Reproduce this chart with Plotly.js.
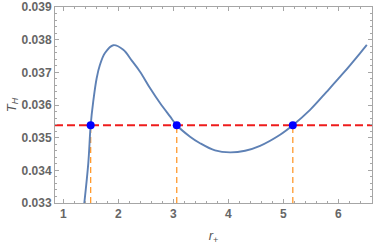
<!DOCTYPE html>
<html>
<head>
<meta charset="utf-8">
<script src="https://cdn.plot.ly/plotly-3.0.1.min.js"></script>
<style>html,body{margin:0;padding:0;background:#fff;}#chart{width:374px;height:245px;}</style>
</head>
<body>
<div id="chart"></div>
<script>
// Curve T_H(r_+)
var rPlus = [1.382,1.455,1.498,1.545,1.607,1.667,1.758,1.909,2.091,2.249,2.395,2.576,2.758,2.940,3.062,3.304,3.485,3.758,4.031,4.304,4.576,4.940,5.171,5.485,5.789,6.091,6.395,6.516];
var tempH = [0.03299,0.03422,0.03538,0.03611,0.03682,0.03723,0.03759,0.03783,0.03769,0.03735,0.03702,0.03652,0.03606,0.03565,0.03538,0.03503,0.03483,0.03461,0.03455,0.03460,0.03475,0.03509,0.03538,0.03585,0.03641,0.03698,0.03759,0.03784];
// Horizontal level and its intersections
var levelT = 0.03538;
var rootR = [1.498, 3.062, 5.171];
var rootT = [levelT, levelT, levelT];
// Axis setup
var xRange = [0.85, 6.61];
var yRange = [0.033, 0.039];
var xTicks = [1, 2, 3, 4, 5, 6];
var yTicks = [0.033, 0.034, 0.035, 0.036, 0.037, 0.038, 0.039];
var yTickText = ['0.033','0.034','0.035','0.036','0.037','0.038','0.039'];

var shapes = [{
  type: 'line', xref: 'paper', yref: 'y', x0: 0, x1: 1, y0: levelT, y1: levelT,
  line: {color: '#ee1c1c', width: 1.8, dash: '8px,4px'}, layer: 'below'
}];
rootR.forEach(function (r) {
  shapes.push({
    type: 'line', xref: 'x', yref: 'y', x0: r, x1: r, y0: yRange[0], y1: levelT,
    line: {color: '#ff9a2e', width: 1.3, dash: '6px,4px'}, layer: 'below'
  });
});

var traces = [
  {x: rPlus, y: tempH, mode: 'lines', type: 'scatter',
   line: {color: '#5e81b5', width: 1.9, shape: 'spline', smoothing: 1}, hoverinfo: 'skip'},
  {x: rootR, y: rootT, mode: 'markers', type: 'scatter',
   marker: {color: '#0000ff', size: 8}, hoverinfo: 'skip', cliponaxis: false}
];

var tickFont = {family: 'Liberation Sans, Arial, sans-serif', size: 12, color: '#666666', weight: 'bold'};
var axisCommon = {
  showgrid: false, zeroline: false, showline: true, linecolor: '#a6a6a6', linewidth: 1,
  mirror: 'ticks', ticks: 'inside', ticklen: 4, tickwidth: 1, tickcolor: '#a6a6a6',
  tickfont: tickFont
};

var layout = {
  width: 374, height: 245,
  margin: {l: 55, r: 2, t: 7, b: 42},
  paper_bgcolor: '#ffffff', plot_bgcolor: '#ffffff',
  showlegend: false,
  xaxis: Object.assign({}, axisCommon, {
    range: xRange, tickmode: 'array', tickvals: xTicks, ticktext: xTicks.map(String),
    minor: {dtick: 0.2, tick0: 0, ticks: 'inside', ticklen: 2, tickcolor: '#a6a6a6', tickwidth: 1},
    title: {text: '<i>r</i><sub>+</sub>', font: {family: 'Liberation Sans, Arial, sans-serif', size: 13, color: '#555555'}, standoff: 10}
  }),
  yaxis: Object.assign({}, axisCommon, {
    range: yRange, tickmode: 'array', tickvals: yTicks, ticktext: yTickText,
    minor: {dtick: 0.0002, tick0: 0, ticks: 'inside', ticklen: 2, tickcolor: '#a6a6a6', tickwidth: 1},
    title: {text: '<i>T</i><sub><i>H</i></sub>', font: {family: 'Liberation Sans, Arial, sans-serif', size: 13, color: '#555555'}, standoff: 2}
  }),
  shapes: shapes
};

Plotly.newPlot('chart', traces, layout, {staticPlot: true, displayModeBar: false});
</script>
</body>
</html>
